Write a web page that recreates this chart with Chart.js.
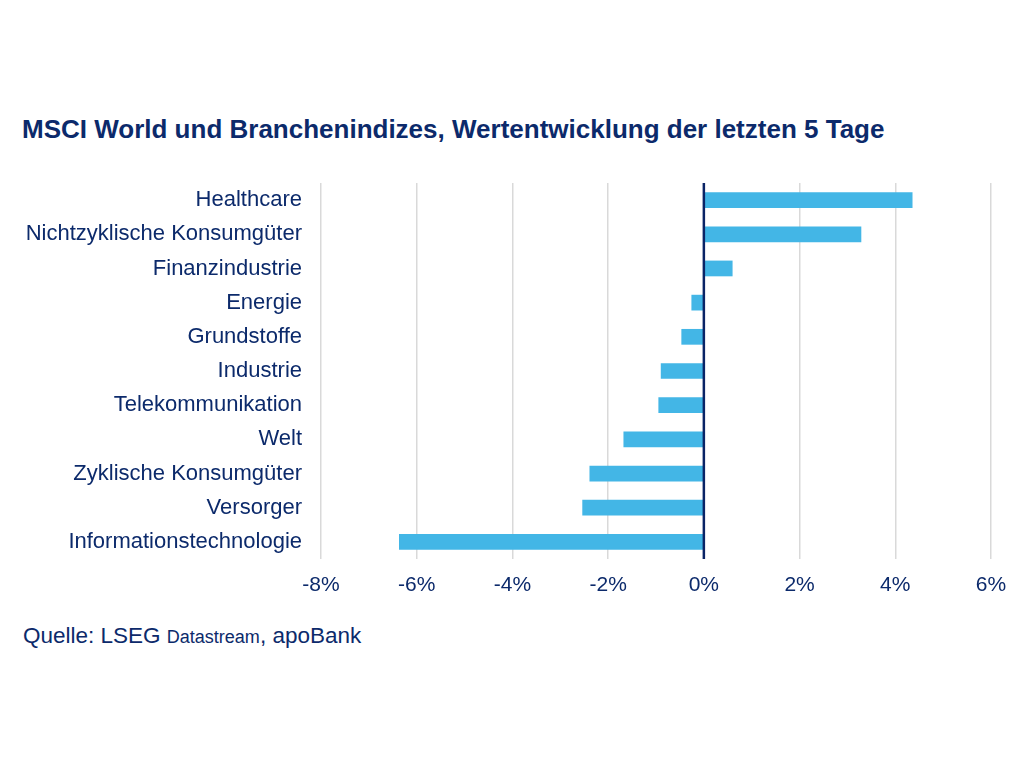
<!DOCTYPE html>
<html>
<head>
<meta charset="utf-8">
<script src="https://cdn.jsdelivr.net/npm/chart.js@4"></script>
<style>
  html, body { margin: 0; padding: 0; background: #ffffff; }
  body { width: 1024px; height: 768px; position: relative; overflow: hidden; font-family: "Liberation Sans", Arial, sans-serif; }
  #title { position: absolute; left: 22px; top: 114px; font-size: 26px; font-weight: bold; color: #0c2a6b; white-space: nowrap; }
  #source { position: absolute; left: 23px; top: 623px; font-size: 22.5px; color: #0c2a6b; white-space: nowrap; }
  #source .small { font-size: 18px; }
  #wrap { position: absolute; left: 0; top: 0; width: 1024px; height: 768px; }
</style>
</head>
<body>
<div id="title">MSCI World und Branchenindizes, Wertentwicklung der letzten 5 Tage</div>
<div id="source">Quelle: LSEG <span class="small">Datastream</span>, apoBank</div>
<div id="wrap"><canvas id="c" width="1024" height="768"></canvas></div>
<script>
const categories = [
  "Healthcare",
  "Nichtzyklische Konsumgüter",
  "Finanzindustrie",
  "Energie",
  "Grundstoffe",
  "Industrie",
  "Telekommunikation",
  "Welt",
  "Zyklische Konsumgüter",
  "Versorger",
  "Informationstechnologie"
];
const values = [4.36, 3.29, 0.60, -0.26, -0.47, -0.90, -0.95, -1.68, -2.39, -2.54, -6.37];
const xMin = -8;
const xMax = 6;
const xStep = 2;

const navy = "#0c2a6b";
const barColor = "#43b6e6";

const zeroLine = {
  id: "zeroLine",
  afterDatasetsDraw(chart) {
    const x = chart.scales.x.getPixelForValue(0);
    const { top, bottom } = chart.chartArea;
    const ctx = chart.ctx;
    ctx.save();
    ctx.strokeStyle = "#0a2466";
    ctx.lineWidth = 2.5;
    ctx.beginPath();
    ctx.moveTo(x, top);
    ctx.lineTo(x, bottom);
    ctx.stroke();
    ctx.restore();
  }
};

new Chart(document.getElementById("c"), {
  type: "bar",
  data: {
    labels: categories,
    datasets: [{
      data: values,
      backgroundColor: barColor,
      borderWidth: 0,
      categoryPercentage: 1.0,
      barPercentage: 0.46
    }]
  },
  options: {
    indexAxis: "y",
    responsive: false,
    animation: false,
    devicePixelRatio: 1,
    layout: { padding: { top: 183, right: 33, bottom: 149, left: 0 } },
    plugins: { legend: { display: false }, tooltip: { enabled: false } },
    scales: {
      x: {
        min: xMin,
        max: xMax,
        ticks: {
          stepSize: xStep,
          color: navy,
          font: { family: "'Liberation Sans', Arial, sans-serif", size: 21 },
          padding: 14,
          callback: v => v + "%"
        },
        grid: { color: "#d9d9d9", lineWidth: 1.5, drawTicks: false },
        border: { display: false },
        afterFit(scale) { scale.height = 60; }
      },
      y: {
        ticks: {
          color: navy,
          font: { family: "'Liberation Sans', Arial, sans-serif", size: 22 },
          padding: 19
        },
        grid: { display: false, drawTicks: false },
        border: { display: false },
        afterFit(scale) { scale.width = 321; }
      }
    }
  },
  plugins: [zeroLine]
});
</script>
</body>
</html>
